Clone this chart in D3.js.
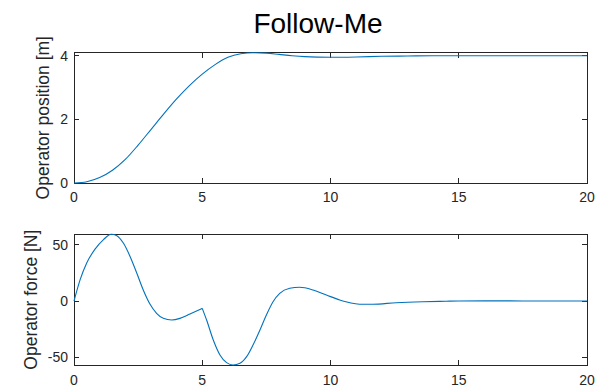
<!DOCTYPE html>
<html>
<head>
<meta charset="utf-8">
<script src="https://cdn.jsdelivr.net/npm/d3@7"></script>
<style>
  body { margin: 0; background: #fff; }
  text { font-family: "Liberation Sans", Arial, sans-serif; }
</style>
</head>
<body>
<div id="plot"></div>
<script>
// position curve (top)
let posTime = [0, 0.5, 1, 1.5, 2, 2.5, 3, 3.5, 4, 4.5, 5, 5.5, 6, 6.5, 7, 7.5, 8, 8.5, 9, 9.5, 10, 11, 12, 13, 14, 15, 16, 17, 18, 19, 20];
let position = [0, 0.04, 0.17, 0.40, 0.74, 1.19, 1.68, 2.17, 2.64, 3.06, 3.42, 3.72, 3.95, 4.06, 4.09, 4.08, 4.04, 4.0, 3.97, 3.955, 3.95, 3.96, 3.98, 3.99, 4.0, 4.0, 4.0, 4.0, 4.0, 4.0, 4.0];

// force curve (bottom), kink at t = 5
let forceTime = [0, 0.24, 0.5, 0.82, 1.15, 1.45, 1.67, 1.93, 2.19, 2.45, 2.7, 2.96, 3.22, 3.48, 3.81, 4.13, 4.52, 5,
                 5.17, 5.43, 5.69, 5.95, 6.2, 6.47, 6.73, 6.98, 7.25, 7.5, 7.76, 8.02, 8.41, 8.8, 9.32, 9.84, 10.36,
                 10.6, 11.26, 11.65, 12.56, 13.6, 14.5, 15, 16, 17, 18, 19, 20];
let force = [0, 19, 34, 46, 54.5, 59.2, 58, 51.2, 39.3, 24.6, 9.8, -2.7, -10.9, -15.4, -16.9, -15.4, -11.5, -6.5,
             -16.9, -34.6, -47.9, -54.7, -56.8, -55.3, -49.4, -39, -25.7, -12.4, -0.6, 6.8, 11.3, 12.2, 9.8, 5.3, 0.9,
             -0.6, -2.9, -2.9, -1.5, -0.6, -0.2, 0, 0.1, 0.1, 0, 0, 0];

let xTicks = [0, 5, 10, 15, 20];
let posTicks = [0, 2, 4];
let forceTicks = [-50, 0, 50];

let width = 603, height = 387;
let left = 74, right = 587;
let axisColor = "#262626";
let lineColor = "#0072BD";

let svg = d3.select("#plot")
  .append("svg")
    .attr("width", width)
    .attr("height", height);

svg.append("text")
  .attr("x", 318)
  .attr("y", 33)
  .attr("text-anchor", "middle")
  .style("font-size", "28px")
  .style("fill", "#000")
  .text("Follow-Me");

function createPanel(top, bottom, yDomain, yTicks, label, labelX, xLabelGap, series) {
  let x = d3.scaleLinear().domain([0, 20]).range([left, right]);
  let y = d3.scaleLinear().domain(yDomain).range([bottom, top]);
  let g = svg.append("g");

  // box
  g.append("rect")
    .attr("x", left).attr("y", top)
    .attr("width", right - left).attr("height", bottom - top)
    .attr("fill", "none")
    .attr("stroke", axisColor)
    .attr("stroke-width", 1)
    .attr("shape-rendering", "crispEdges");

  // inward ticks on all four sides
  xTicks.forEach(t => {
    g.append("line").attr("x1", x(t)).attr("x2", x(t)).attr("y1", bottom).attr("y2", bottom - 5);
    g.append("line").attr("x1", x(t)).attr("x2", x(t)).attr("y1", top).attr("y2", top + 5);
    g.append("text")
      .attr("x", x(t)).attr("y", bottom + xLabelGap)
      .attr("text-anchor", "middle")
      .style("font-size", "14px").style("fill", axisColor)
      .text(t);
  });
  yTicks.forEach(v => {
    g.append("line").attr("x1", left).attr("x2", left + 5).attr("y1", y(v)).attr("y2", y(v));
    g.append("line").attr("x1", right).attr("x2", right - 5).attr("y1", y(v)).attr("y2", y(v));
    g.append("text")
      .attr("x", left - 6).attr("y", y(v)).attr("dy", "0.36em")
      .attr("text-anchor", "end")
      .style("font-size", "14px").style("fill", axisColor)
      .text(v);
  });
  g.selectAll("line")
    .attr("stroke", axisColor)
    .attr("stroke-width", 1)
    .attr("shape-rendering", "crispEdges");

  g.append("text")
    .attr("transform", "translate(" + labelX + "," + ((top + bottom) / 2) + ") rotate(-90)")
    .attr("text-anchor", "middle")
    .style("font-size", "17.5px").style("fill", axisColor)
    .text(label);

  let line = d3.line()
    .x(d => x(d[0]))
    .y(d => y(d[1]))
    .curve(d3.curveMonotoneX);

  series.forEach(s => {
    g.append("path")
      .datum(s)
      .attr("d", line)
      .attr("fill", "none")
      .attr("stroke", lineColor)
      .attr("stroke-width", 1.1);
  });
}

let posData = posTime.map((t, i) => [t, position[i]]);
let forceData = forceTime.map((t, i) => [t, force[i]]);
let kink = forceTime.indexOf(5);

createPanel(52.5, 183, [0, 4.1], posTicks, "Operator position [m]", 49.3, 18.5, [posData]);
createPanel(234.3, 365, [-56.8, 59.2], forceTicks, "Operator force [N]", 37.3, 20,
  [forceData.slice(0, kink + 1), forceData.slice(kink)]);
</script>
</body>
</html>
